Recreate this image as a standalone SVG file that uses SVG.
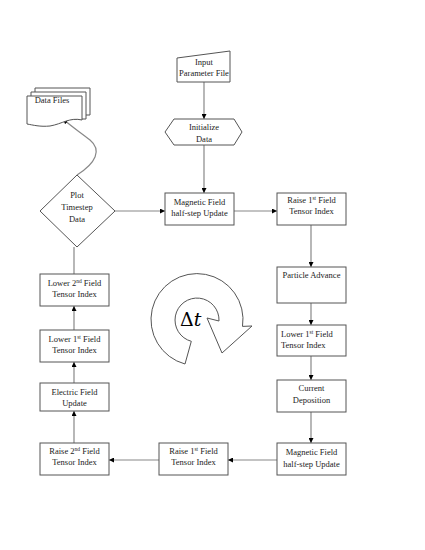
<svg xmlns="http://www.w3.org/2000/svg" width="425" height="550" viewBox="0 0 425 550">
<defs>
<marker id="ah" viewBox="0 0 10 10" refX="10" refY="5" markerWidth="5" markerHeight="5" orient="auto" markerUnits="userSpaceOnUse">
<path d="M0,0 L10,5 L0,10 z" fill="#000"/>
</marker>
</defs>
<style>
.n{fill:#fff;stroke:#555;stroke-width:1}
.t{font-family:"Liberation Serif","Times New Roman",serif;font-size:8.5px;fill:#222;text-anchor:middle}
.l{text-anchor:start}
.c{fill:none;stroke:#888;stroke-width:1.2;marker-end:url(#ah)}
.s{font-size:5.5px}
</style>
<rect width="425" height="550" fill="#fff"/>
<g id="connectors">
<path class="c" d="M204,82 V119"/>
<path class="c" d="M204,145 V193"/>
<path class="c" d="M234,211 H277"/>
<path class="c" d="M311,225 V267"/>
<path class="c" d="M311,303 V325"/>
<path class="c" d="M311,356 V380"/>
<path class="c" d="M311,412 V443"/>
<path class="c" d="M277,460 H228"/>
<path class="c" d="M159,460 H109"/>
<path class="c" d="M74,443 V411"/>
<path class="c" d="M74,383 V362"/>
<path class="c" d="M74,330 V306"/>
<path class="c" d="M74,274 V247" style="marker-end:none"/>
<path class="c" d="M115,211 H165"/>
<path class="c" d="M77,175 C 96,163 102,150 90,140 C 80,132 72,127 63,119"/>
</g>
<g id="input">
<polygon class="n" points="177,58 230,51 230,82 177,82"/>
<text class="t" x="204" y="65">Input</text>
<text class="t" x="204" y="76">Parameter File</text>
</g>
<g id="datafiles">
<path class="n" d="M35,88 H90 V115 H35 Z"/>
<path class="n" d="M31,92 H86 V119 H31 Z"/>
<path class="n" d="M27,96 H82 V120 C 70,117 62,124 50,126 C 40,127 33,125 27,124 Z"/>
<text class="t" x="52" y="103">Data Files</text>
</g>
<g id="init">
<polygon class="n" points="165,132 174,119 234,119 242,132 234,145 174,145"/>
<text class="t" x="204" y="130">Initialize</text>
<text class="t" x="204" y="142">Data</text>
</g>
<g id="plot">
<polygon class="n" points="77,175 115,211 77,247 40,211"/>
<text class="t" x="77" y="198">Plot</text>
<text class="t" x="77" y="210">Timestep</text>
<text class="t" x="77" y="222">Data</text>
</g>
<g id="magtop">
<rect class="n" x="165" y="193" width="69" height="32"/>
<text class="t" x="199.5" y="205">Magnetic Field</text>
<text class="t" x="199.5" y="216">half-step Update</text>
</g>
<g id="raise1top">
<rect class="n" x="277" y="193" width="69" height="32"/>
<text class="t" x="311.5" y="203">Raise 1<tspan class="s" dy="-3">st</tspan><tspan dy="3"> Field</tspan></text>
<text class="t" x="311.5" y="214">Tensor Index</text>
</g>
<g id="particle">
<rect class="n" x="277" y="267" width="69" height="36"/>
<text class="t" x="311.5" y="278">Particle Advance</text>
</g>
<g id="lower1right">
<rect class="n" x="277" y="325" width="69" height="31"/>
<text class="t l" x="281" y="337">Lower 1<tspan class="s" dy="-3">st</tspan><tspan dy="3"> Field</tspan></text>
<text class="t l" x="281" y="348">Tensor Index</text>
</g>
<g id="current">
<rect class="n" x="277" y="380" width="69" height="32"/>
<text class="t" x="311.5" y="391">Current</text>
<text class="t" x="311.5" y="403">Deposition</text>
</g>
<g id="magbottom">
<rect class="n" x="277" y="443" width="69" height="32"/>
<text class="t" x="311.5" y="455">Magnetic Field</text>
<text class="t" x="311.5" y="467">half-step Update</text>
</g>
<g id="raise1bottom">
<rect class="n" x="159" y="443" width="69" height="32"/>
<text class="t" x="193.5" y="454">Raise 1<tspan class="s" dy="-3">st</tspan><tspan dy="3"> Field</tspan></text>
<text class="t" x="193.5" y="465">Tensor Index</text>
</g>
<g id="raise2">
<rect class="n" x="40" y="443" width="69" height="32"/>
<text class="t" x="74.5" y="454">Raise 2<tspan class="s" dy="-3">nd</tspan><tspan dy="3"> Field</tspan></text>
<text class="t" x="74.5" y="465">Tensor Index</text>
</g>
<g id="electric">
<rect class="n" x="40" y="383" width="69" height="28"/>
<text class="t" x="74.5" y="395">Electric Field</text>
<text class="t" x="74.5" y="406">Update</text>
</g>
<g id="lower1left">
<rect class="n" x="40" y="330" width="69" height="32"/>
<text class="t" x="74.5" y="342">Lower 1<tspan class="s" dy="-3">st</tspan><tspan dy="3"> Field</tspan></text>
<text class="t" x="74.5" y="353">Tensor Index</text>
</g>
<g id="lower2">
<rect class="n" x="40" y="274" width="69" height="32"/>
<text class="t" x="74.5" y="286">Lower 2<tspan class="s" dy="-3">nd</tspan><tspan dy="3"> Field</tspan></text>
<text class="t" x="74.5" y="297">Tensor Index</text>
</g>
<g id="dt">
<path class="n" d="M185,364 A46,46 0 1 1 242.5,326.4 L252,326 L222,353 L207,318 L219,321 A22,22 0 1 0 191.3,341.3 Z"/>
<text x="180" y="326" style="font-family:'DejaVu Serif','Liberation Serif',serif;font-size:19px;fill:#000">Δ<tspan font-style="italic">t</tspan></text>
</g>
</svg>
